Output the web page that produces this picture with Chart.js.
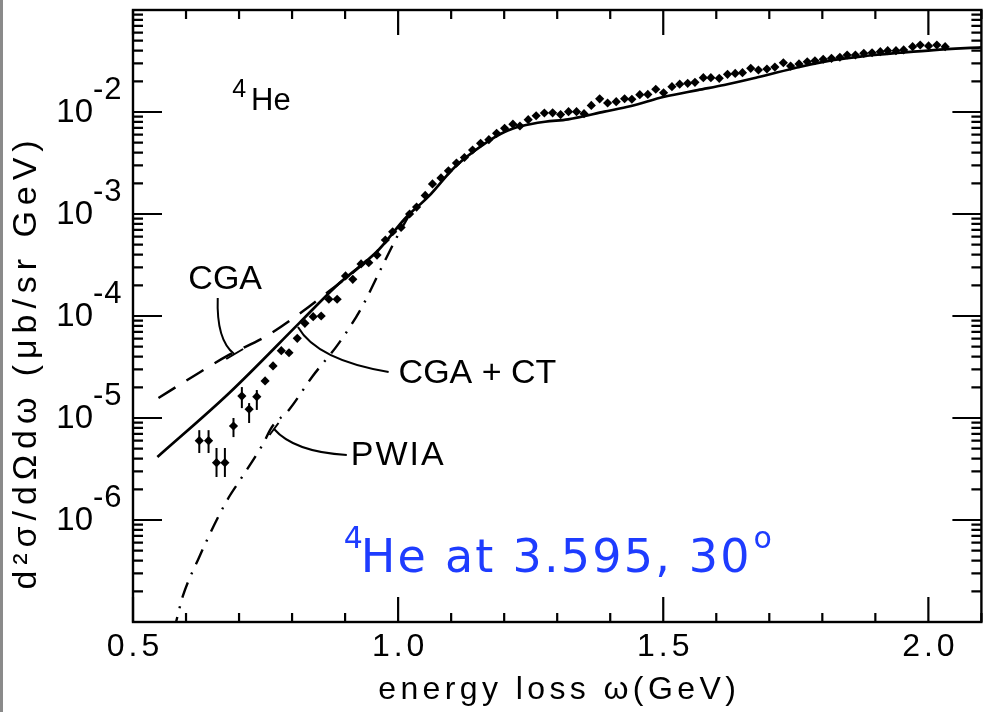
<!DOCTYPE html>
<html>
<head>
<meta charset="utf-8">
<script src="https://cdn.jsdelivr.net/npm/chart.js@4.4.0/dist/chart.umd.min.js"></script>
<style>
html, body { margin: 0; padding: 0; background: #fff; }
#wrap { position: relative; width: 986px; height: 712px; }
#edge { position: absolute; left: 0; top: 0; width: 3px; height: 712px; background: #8a8a8a; }
</style>
</head>
<body>
<div id="wrap"><canvas id="c" width="986" height="712"></canvas><div id="edge"></div></div>
<script>
// measured points: energy loss (GeV) and cross section (ub/sr GeV)
const omega = [0.625,0.6425,0.6575,0.6733,0.6895,0.7053,0.719,0.7335,0.7491,0.7641,
  0.7797,0.7942,0.8098,0.8242,0.8398,0.8549,0.8694,0.885,0.9008,0.9145,
  0.9301,0.9446,0.9602,0.9759,0.9897,1.0056,1.0216,1.0348,1.0511,1.0648,
  1.0808,1.0949,1.11,1.125,1.1404,1.1555,1.1711,1.1857,1.2008,1.2165,
  1.2297,1.2453,1.2603,1.2758,1.2914,1.3064,1.3214,1.3365,1.3506,1.3643,
  1.3801,1.3951,1.4113,1.4271,1.4408,1.4558,1.4709,1.4859,1.5006,1.5164,
  1.531,1.5461,1.5598,1.5756,1.5898,1.6056,1.6212,1.6357,1.6494,1.665,
  1.6795,1.6955,1.7105,1.7265,1.7402,1.756,1.7716,1.7861,1.8017,1.8173,
  1.8331,1.8468,1.8624,1.8782,1.8938,1.9094,1.9233,1.9389,1.9534,1.9703,
  1.9846,2.0004,2.016,2.0316];
const sigma = [5.99e-6,5.99e-6,3.65e-6,3.65e-6,8.35e-6,1.64e-5,1.22e-5,1.62e-5,2.31e-5,3.24e-5,
  4.57e-5,4.36e-5,6.04e-5,8.47e-5,9.84e-5,1.00e-4,1.46e-4,1.46e-4,2.47e-4,2.29e-4,
  3.24e-4,3.33e-4,3.96e-4,5.56e-4,6.70e-4,7.38e-4,1.00e-3,1.17e-3,1.52e-3,1.97e-3,
  2.26e-3,2.65e-3,3.16e-3,3.58e-3,4.24e-3,4.93e-3,5.35e-3,6.18e-3,6.92e-3,7.59e-3,
  7.29e-3,8.41e-3,9.19e-3,9.78e-3,9.82e-3,9.44e-3,1.007e-2,1.007e-2,9.62e-3,1.159e-2,
  1.346e-2,1.225e-2,1.262e-2,1.349e-2,1.334e-2,1.479e-2,1.486e-2,1.671e-2,1.545e-2,1.77e-2,
  1.875e-2,1.91e-2,1.955e-2,2.17e-2,2.17e-2,2.14e-2,2.34e-2,2.39e-2,2.43e-2,2.68e-2,
  2.58e-2,2.64e-2,2.76e-2,3.04e-2,2.82e-2,2.96e-2,3.11e-2,3.18e-2,3.29e-2,3.36e-2,
  3.44e-2,3.62e-2,3.62e-2,3.76e-2,3.81e-2,3.90e-2,3.99e-2,3.99e-2,4.06e-2,4.37e-2,
  4.54e-2,4.44e-2,4.54e-2,4.37e-2];
// error bars, only the first points have visible ones
const errLow  = [4.54e-6,4.54e-6,2.64e-6,2.64e-6,6.5e-6,1.25e-5,8.93e-6,1.20e-5];
const errHigh = [7.6e-6,7.6e-6,5.08e-6,5.08e-6,1.0e-5,2.01e-5,1.40e-5,1.88e-5];

// CGA + CT (solid)
const cgactW = [0.546,0.681,0.813,0.882,0.963,1.0135,1.057,1.1075,1.164,1.2015,1.233,1.277,1.3205,
  1.389,1.4395,1.502,1.565,1.615,1.678,1.759,1.822,1.884,1.947,2.010,2.100];
const cgactS = [4.15e-6,1.75e-5,8.47e-5,1.94e-4,4.44e-4,9.08e-4,1.48e-3,2.91e-3,4.93e-3,6.41e-3,7.29e-3,8.03e-3,8.48e-3,
  1.007e-2,1.146e-2,1.41e-2,1.64e-2,1.84e-2,2.19e-2,2.78e-2,3.24e-2,3.56e-2,3.81e-2,4.05e-2,4.31e-2];
// CGA (dashed)
const cgaW = [0.548,0.6124,0.681,0.750,0.819,0.8726,0.907,0.963];
const cgaS = [1.57e-5,2.54e-5,4.15e-5,6.27e-5,1.10e-4,1.80e-4,2.47e-4,4.44e-4];
// PWIA (dash-dot)
const pwiaW = [0.576,0.5812,0.5936,0.625,0.6594,0.681,0.700,0.744,0.762,0.794,0.838,0.888,0.932,0.9695,0.9947,1.0197];
const pwiaS = [7.9e-8,1.0e-7,1.77e-7,4.34e-7,1.04e-6,1.68e-6,2.38e-6,5.43e-6,8.16e-6,1.20e-5,2.54e-5,5.39e-5,1.23e-4,3.04e-4,5.56e-4,9.55e-4];

const xTickVals = [0.5, 1.0, 1.5, 2.0];
const yTickExps = [-6, -5, -4, -3, -2];

const pts = (xs, ys) => xs.map((v, i) => ({x: v, y: ys[i]}));

function txt(ctx, s, x, y, font, align, spacing) {
    ctx.font = font;
    ctx.letterSpacing = (spacing || 0) + 'px';
    ctx.textAlign = align || 'left';
    ctx.fillText(s, x, y);
}

const deco = {
    id: 'deco',
    beforeDatasetsDraw(chart) {
        const {ctx, scales: {x, y}} = chart;
        ctx.save();
        ctx.strokeStyle = '#000';
        ctx.lineWidth = 2;
        errLow.forEach((lo, i) => {
            const px = x.getPixelForValue(omega[i]);
            ctx.beginPath();
            ctx.moveTo(px, y.getPixelForValue(lo));
            ctx.lineTo(px, y.getPixelForValue(errHigh[i]));
            ctx.stroke();
        });
        ctx.restore();
    },
    afterDraw(chart) {
        const {ctx, chartArea: a, scales: {x, y}} = chart;
        const P = (w, lg) => [x.getPixelForValue(w), y.getPixelForValue(Math.pow(10, lg))];
        ctx.save();
        ctx.strokeStyle = '#000';
        ctx.fillStyle = '#000';

        // frame
        ctx.lineWidth = 2.4;
        ctx.strokeRect(a.left, a.top, a.right - a.left, a.bottom - a.top);

        // x ticks, inward, bottom and top
        ctx.lineWidth = 2.2;
        for (let k = 5; k <= 21; k++) {
            const v = k / 10;
            const px = x.getPixelForValue(v);
            const len = (k % 5 === 0) ? 25 : 9;
            ctx.beginPath();
            ctx.moveTo(px, a.bottom); ctx.lineTo(px, a.bottom - len);
            ctx.moveTo(px, a.top); ctx.lineTo(px, a.top + len);
            ctx.stroke();
        }
        // y ticks, inward, left and right
        for (let e = -7; e <= -2; e++) {
            for (let m = 1; m <= 9; m++) {
                const v = m * Math.pow(10, e);
                if (v < 1e-7 || v > 1e-1) continue;
                const py = y.getPixelForValue(v);
                const len = (m === 1) ? 29 : 10;
                ctx.beginPath();
                ctx.moveTo(a.left, py); ctx.lineTo(a.left + len, py);
                ctx.moveTo(a.right, py); ctx.lineTo(a.right - len, py);
                ctx.stroke();
            }
        }

        const sans = "'Liberation Sans', Arial, sans-serif";
        // x tick labels
        ctx.textBaseline = 'middle';
        xTickVals.forEach(v => {
            txt(ctx, v.toFixed(1), x.getPixelForValue(v) + 2, a.bottom + 25, '32px ' + sans, 'center', 4);
        });
        // y tick labels 10^e
        yTickExps.forEach(e => {
            const py = y.getPixelForValue(Math.pow(10, e));
            ctx.textBaseline = 'middle';
            txt(ctx, '10', a.left - 40, py + 1, '33px ' + sans, 'right', 0);
            ctx.textBaseline = 'alphabetic';
            txt(ctx, String(e), a.left - 40, py - 13, '31px ' + sans, 'left', 1);
        });

        // axis titles
        ctx.textBaseline = 'middle';
        ctx.font = '32px ' + sans;
        ctx.letterSpacing = '0px';
        const xt = 'energy loss \u03c9(GeV)';
        const xw = ctx.measureText(xt).width;
        txt(ctx, xt, (a.left + a.right) / 2 + 2, a.bottom + 68, '32px ' + sans, 'center', (362 - xw) / xt.length);

        const yt = 'd\u00b2\u03c3/d\u03a9d\u03c9 (\u03bcb/sr GeV)';
        ctx.font = '34px ' + sans;
        ctx.letterSpacing = '0px';
        const yw = ctx.measureText(yt).width;
        ctx.save();
        ctx.translate(27, 362);
        ctx.rotate(-Math.PI / 2);
        txt(ctx, yt, 0, 0, '34px ' + sans, 'center', (455 - yw) / yt.length);
        ctx.restore();

        // labels on the curves
        let p;
        p = P(0.6739, -3.647); txt(ctx, 'CGA', p[0], p[1], '34px ' + sans, 'center', 0);
        p = P(1.0009, -4.569); txt(ctx, 'CGA + CT', p[0], p[1], '34px ' + sans, 'left', 0);
        p = P(0.9107, -5.373); txt(ctx, 'PWIA', p[0], p[1], '34px ' + sans, 'left', 2);
        ctx.textBaseline = 'alphabetic';
        p = P(0.7227, -1.980); txt(ctx, 'He', p[0], p[1], '31px ' + sans, 'left', 0);
        p = P(0.7133, -1.853); txt(ctx, '4', p[0], p[1], '25px ' + sans, 'right', 0);

        // leader lines
        ctx.lineWidth = 2;
        const curve = (s, c, e) => {
            const [a1, b1] = P(...s), [a2, b2] = P(...c), [a3, b3] = P(...e);
            ctx.beginPath(); ctx.moveTo(a1, b1); ctx.quadraticCurveTo(a2, b2, a3, b3); ctx.stroke();
        };
        const seg = (s, e) => {
            const [a1, b1] = P(...s), [a2, b2] = P(...e);
            ctx.beginPath(); ctx.moveTo(a1, b1); ctx.lineTo(a2, b2); ctx.stroke();
        };
        curve([0.6598, -3.8235], [0.657, -4.235], [0.6908, -4.3725]);
        seg([0.6758, -4.4216], [0.7077, -4.3235]);
        curve([0.8111, -4.108], [0.8468, -4.431], [0.9821, -4.549]);
        curve([0.766, -5.108], [0.8036, -5.333], [0.9032, -5.363]);
        seg([0.7575, -5.1667], [0.7744, -5.049]);

        // blue caption
        ctx.fillStyle = '#1e3cff';
        const blue = "'Comic Sans MS', 'DejaVu Sans', sans-serif";
        const cap = 'He at 3.595, 30';
        ctx.font = '46px ' + blue;
        ctx.letterSpacing = '0px';
        const cw = ctx.measureText(cap).width;
        p = P(0.9296, -6.510);
        txt(ctx, cap, p[0], p[1], '46px ' + blue, 'left', (391 - cw) / cap.length);
        p = P(0.8976, -6.275); txt(ctx, '4', p[0], p[1], '30px ' + blue, 'left', 0);
        p = P(1.6701, -6.275); txt(ctx, 'o', p[0], p[1], '30px ' + blue, 'left', 0);
        ctx.restore();
    }
};

new Chart(document.getElementById('c'), {
    type: 'scatter',
    data: {
        datasets: [{
            label: 'data',
            data: pts(omega, sigma),
            pointStyle: 'rectRot',
            pointRadius: 4.6,
            pointBackgroundColor: '#000',
            pointBorderColor: '#000',
            pointBorderWidth: 0,
            showLine: false
        }, {
            label: 'CGA + CT',
            data: pts(cgactW, cgactS),
            showLine: true,
            borderColor: '#000',
            borderWidth: 2.7,
            pointRadius: 0,
            cubicInterpolationMode: 'monotone'
        }, {
            label: 'CGA',
            data: pts(cgaW, cgaS),
            showLine: true,
            borderColor: '#000',
            borderWidth: 2.5,
            borderDash: [20, 13],
            pointRadius: 0,
            cubicInterpolationMode: 'monotone'
        }, {
            label: 'PWIA',
            data: pts(pwiaW, pwiaS),
            showLine: true,
            borderColor: '#000',
            borderWidth: 2.4,
            borderDash: [16, 9, 2, 9],
            pointRadius: 0,
            cubicInterpolationMode: 'monotone'
        }]
    },
    options: {
        responsive: false,
        animation: false,
        devicePixelRatio: 1,
        layout: {padding: {top: 10, right: 2, left: 0, bottom: 0}},
        plugins: {legend: {display: false}, tooltip: {enabled: false}},
        scales: {
            x: {
                type: 'linear', min: 0.5, max: 2.1,
                grid: {display: false}, border: {display: false}, ticks: {display: false},
                afterFit(s) { s.height = 90; }
            },
            y: {
                type: 'logarithmic', min: 1e-7, max: 1e-1,
                grid: {display: false}, border: {display: false}, ticks: {display: false},
                afterFit(s) { s.width = 133; }
            }
        }
    },
    plugins: [deco]
});
</script>
</body>
</html>
